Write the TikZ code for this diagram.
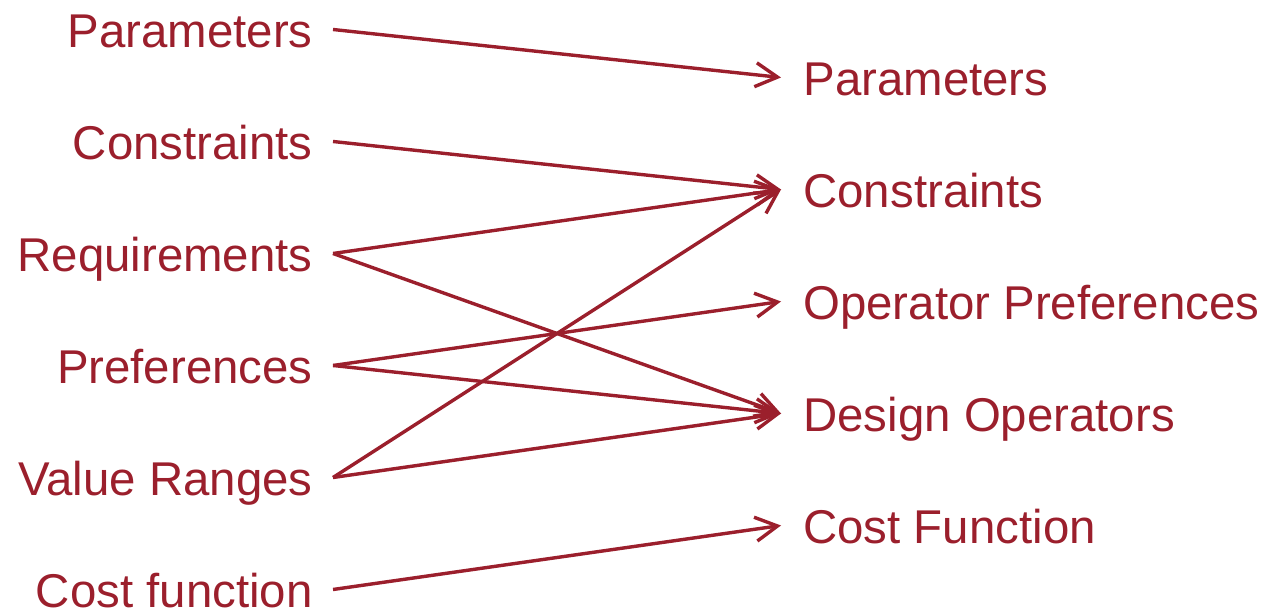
\documentclass[tikz,border=0pt]{standalone}
\usepackage{fontspec}
\setmainfont{Liberation Sans}
\usepackage{tikz}
\usetikzlibrary{arrows.meta}
\definecolor{linkred}{HTML}{9B1F2C}

\begin{document}
\begin{tikzpicture}[x=0.5pt, y=-0.5pt,
  lbl/.style={anchor=base east, inner sep=0pt, text=linkred,
    text height=18.5pt, text depth=0pt, font=\fontsize{23.7pt}{28pt}\selectfont},
  rlbl/.style={lbl, anchor=base west},
  arr/.style={-{Straight Barb[length=11pt, width=12pt]}, line width=1.7pt, linkred}
]
  \useasboundingbox (0,0) rectangle (1268,613);

  % Inputs
  \node[lbl] (par) at (313, 48) {Parameters};
  \node[lbl] (con) at (313, 160) {Constraints};
  \node[lbl] (req) at (313, 272) {Requirements};
  \node[lbl] (pre) at (313, 384) {Preferences};
  \node[lbl] (val) at (313, 496) {Value Ranges};
  \node[lbl] (cst) at (313, 608) {Cost function};

  % Outputs
  \node[rlbl] (opar) at (803, 96) {Parameters};
  \node[rlbl] (ocon) at (803, 208) {Constraints};
  \node[rlbl] (opre) at (803, 320) {Operator Preferences};
  \node[rlbl] (odes) at (803, 432) {Design Operators};
  \node[rlbl] (ocst) at (803, 544) {Cost Function};

  \draw[arr] ([xshift=10pt]par.east) -- ([xshift=-11pt]opar.west);
  \draw[arr] ([xshift=10pt]con.east) -- ([xshift=-11pt]ocon.west);
  \draw[arr] ([xshift=10pt]req.east) -- ([xshift=-11pt]ocon.west);
  \draw[arr] ([xshift=10pt]req.east) -- ([xshift=-11pt]odes.west);
  \draw[arr] ([xshift=10pt]pre.east) -- ([xshift=-11pt]opre.west);
  \draw[arr] ([xshift=10pt]pre.east) -- ([xshift=-11pt]odes.west);
  \draw[arr] ([xshift=10pt]val.east) -- ([xshift=-11pt]ocon.west);
  \draw[arr] ([xshift=10pt]val.east) -- ([xshift=-11pt]odes.west);
  \draw[arr] ([xshift=10pt]cst.east) -- ([xshift=-11pt]ocst.west);
\end{tikzpicture}
\end{document}
